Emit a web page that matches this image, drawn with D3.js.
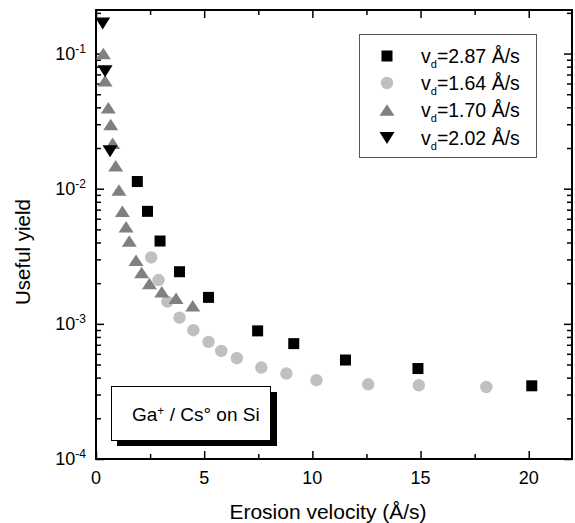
<!DOCTYPE html>
<html>
<head>
<meta charset="utf-8">
<script src="https://cdn.jsdelivr.net/npm/d3@7"></script>
<style>
  body { margin: 0; background: #fff; }
  svg text { font-family: "Liberation Sans", Arial, sans-serif; fill: #000; }
</style>
</head>
<body>
<div id="chart"></div>
<script>
// series (erosion velocity in A/s, useful yield)
var sqX = [1.91, 2.38, 2.96, 3.86, 5.2, 7.47, 9.14, 11.53, 14.88, 20.14];
var sqY = [0.0113, 0.0068, 0.0041, 0.00243, 0.00157, 0.000887, 0.000714, 0.00054, 0.000467, 0.000348];

var ciX = [2.55, 2.89, 3.30, 3.86, 4.5, 5.2, 5.79, 6.51, 7.64, 8.80, 10.19, 12.58, 14.92, 18.04];
var ciY = [0.0031, 0.00211, 0.00146, 0.00111, 0.000897, 0.000736, 0.00063, 0.000557, 0.000475, 0.000429, 0.000383, 0.000357, 0.000351, 0.000341];

var trX = [0.34, 0.42, 0.57, 0.68, 0.77, 0.91, 1.06, 1.22, 1.39, 1.54, 1.85, 2.11, 2.47, 3.04, 3.70, 4.47];
var trY = [0.1, 0.063, 0.0397, 0.0298, 0.0217, 0.0148, 0.0098, 0.0068, 0.00524, 0.0041, 0.00296, 0.0024, 0.00199, 0.00173, 0.00155, 0.00136];

var invX = [0.31, 0.42, 0.65];
var invY = [0.167, 0.074, 0.0189];

var legendLabels = ["=2.87 Å/s", "=1.64 Å/s", "=1.70 Å/s", "=2.02 Å/s"];
var xTicks = [0, 2.5, 5, 7.5, 10, 12.5, 15, 17.5, 20];
var xLabels = [0, 5, 10, 15, 20];
var yExps = [-4, -3, -2, -1];

// dimensions
var width = 575, height = 523;
var pLeft = 96, pRight = 572, pTop = 10, pBottom = 459;

var svg = d3.select("#chart")
  .append("svg")
    .attr("width", width)
    .attr("height", height);

var x = d3.scaleLinear().domain([0, 22]).range([pLeft, pRight]);
var y = d3.scaleLog().domain([1e-4, 0.21]).range([pBottom, pTop]);

// log ticks: k * 10^e
var yTicks = [];
yExps.forEach(function (e) {
  for (var k = 1; k <= 9; k++) {
    var v = k * Math.pow(10, e);
    if (v <= 0.21) yTicks.push(v);
  }
});
var isMajorY = function (v) { return Math.abs(Math.log10(v) - Math.round(Math.log10(v))) < 1e-6; };
var isMajorX = function (v) { return v % 5 === 0; };

// axes, ticks pointing inward
function styleAxis(g, majorFn, dir) {
  g.select(".domain").remove();
  g.selectAll(".tick line")
    .attr("stroke", "#000")
    .attr("stroke-width", 1.5)
    .each(function (d) {
      var len = majorFn(d) ? 8 : 5;
      var l = d3.select(this);
      if (dir === "x") l.attr("x2", len * (l.attr("x2") < 0 ? -1 : 1));
      else l.attr("y2", len * (l.attr("y2") < 0 ? -1 : 1));
    });
}

svg.append("g").attr("transform", "translate(0," + pBottom + ")")
  .call(d3.axisBottom(x).tickValues(xTicks).tickSize(-8).tickFormat(""))
  .call(styleAxis, isMajorX, "y");
svg.append("g").attr("transform", "translate(0," + pTop + ")")
  .call(d3.axisTop(x).tickValues(xTicks).tickSize(-8).tickFormat(""))
  .call(styleAxis, isMajorX, "y");
svg.append("g").attr("transform", "translate(" + pLeft + ",0)")
  .call(d3.axisLeft(y).tickValues(yTicks).tickSize(-8).tickFormat(""))
  .call(styleAxis, isMajorY, "x");
svg.append("g").attr("transform", "translate(" + pRight + ",0)")
  .call(d3.axisRight(y).tickValues(yTicks).tickSize(-8).tickFormat(""))
  .call(styleAxis, isMajorY, "x");

// frame
svg.append("rect")
  .attr("x", pLeft).attr("y", pTop)
  .attr("width", pRight - pLeft).attr("height", pBottom - pTop)
  .attr("fill", "none").attr("stroke", "#000").attr("stroke-width", 2);

// tick labels
svg.selectAll(".xlab").data(xLabels).enter().append("text")
  .attr("class", "xlab")
  .attr("x", function (d) { return x(d); })
  .attr("y", 484)
  .attr("text-anchor", "middle")
  .attr("font-size", 18)
  .text(function (d) { return d; });

var ylab = svg.selectAll(".ylab").data(yExps).enter().append("text")
  .attr("class", "ylab")
  .attr("x", 86)
  .attr("y", function (d) { return y(Math.pow(10, d)) + 6; })
  .attr("text-anchor", "end")
  .attr("font-size", 18);
ylab.append("tspan").text("10");
ylab.append("tspan").attr("dy", -7).attr("font-size", 12).text(function (d) { return "-" + (-d); });

// axis titles
svg.append("text")
  .attr("x", 328).attr("y", 519)
  .attr("text-anchor", "middle")
  .attr("font-size", 21)
  .text("Erosion velocity (Å/s)");

svg.append("text")
  .attr("transform", "translate(30,252) rotate(-90)")
  .attr("text-anchor", "middle")
  .attr("font-size", 20.5)
  .text("Useful yield");

// marker shapes
function tri(w, h, up) {
  var s = up ? 1 : -1;
  return "M0," + (-s * h / 2) + "L" + (w / 2) + "," + (s * h / 2) + "L" + (-w / 2) + "," + (s * h / 2) + "Z";
}
var markers = [
  { draw: function (g) { return g.append("circle").attr("r", 6.2).attr("fill", "#c0c0c0"); } },
  { draw: function (g) { return g.append("path").attr("d", tri(15, 11.5, true)).attr("fill", "#808080"); } },
  { draw: function (g) { return g.append("rect").attr("x", -5.5).attr("y", -5.5).attr("width", 11).attr("height", 11).attr("fill", "#000"); } },
  { draw: function (g) { return g.append("path").attr("d", tri(15, 12, false)).attr("fill", "#000"); } }
];

function plotSeries(xs, ys, m) {
  var g = svg.append("g");
  xs.forEach(function (xv, i) {
    var p = g.append("g").attr("transform", "translate(" + x(xv) + "," + y(ys[i]) + ")");
    markers[m].draw(p);
  });
}
plotSeries(ciX, ciY, 0);
plotSeries(trX, trY, 1);
plotSeries(sqX, sqY, 2);
plotSeries(invX, invY, 3);

// legend
var legend = svg.append("g");
legend.append("rect")
  .attr("x", 359.5).attr("y", 34.5).attr("width", 177).attr("height", 123)
  .attr("fill", "#fff").attr("stroke", "#555").attr("stroke-width", 1);

var legendOrder = [2, 0, 1, 3];
var rowY = [56, 83, 110, 138];
legendLabels.forEach(function (lab, i) {
  var p = legend.append("g").attr("transform", "translate(387," + rowY[i] + ")");
  markers[legendOrder[i]].draw(p);
  var t = legend.append("text")
    .attr("x", 421).attr("y", rowY[i] + 7)
    .attr("font-size", 19.5);
  t.append("tspan").text("v");
  t.append("tspan").attr("dy", 5).attr("font-size", 11).text("d");
  t.append("tspan").attr("dy", -5).text(lab);
});

// annotation box with shadow
svg.append("rect")
  .attr("x", 117).attr("y", 392).attr("width", 160).attr("height", 54)
  .attr("fill", "#000");
svg.append("rect")
  .attr("x", 111.5).attr("y", 386.5).attr("width", 159).attr("height", 54)
  .attr("fill", "#fff").attr("stroke", "#000").attr("stroke-width", 1);

var note = svg.append("text")
  .attr("x", 132).attr("y", 421)
  .attr("font-size", 19);
note.append("tspan").text("Ga");
note.append("tspan").attr("dy", -6).attr("font-size", 12).text("+");
note.append("tspan").attr("dy", 6).text(" / Cs°");
note.append("tspan").text(" on Si");
</script>
</body>
</html>
